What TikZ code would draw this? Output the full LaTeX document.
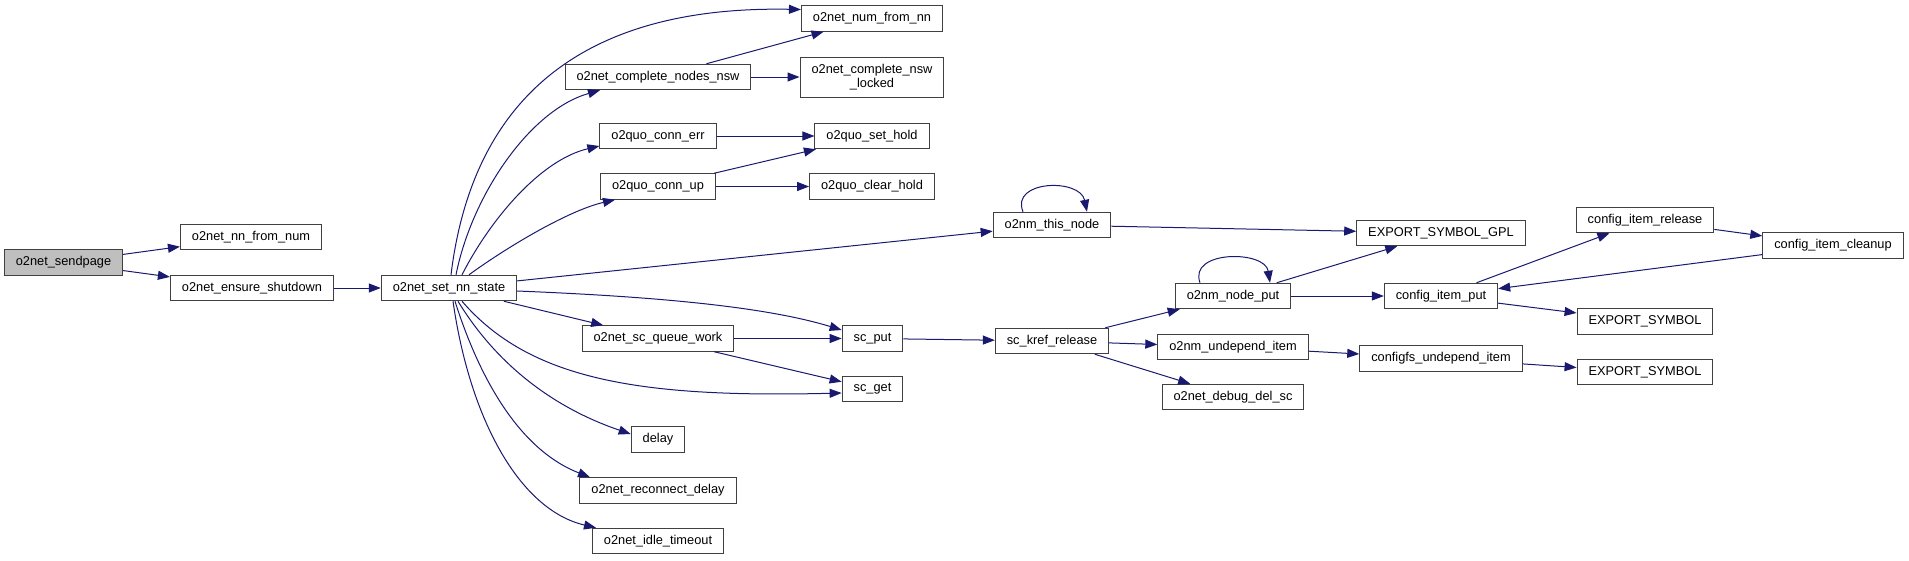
\documentclass[tikz,border=0pt]{standalone}
\usepackage{fontspec}
\setmainfont{Liberation Sans}
\usetikzlibrary{arrows.meta}
\definecolor{edgeblue}{HTML}{191970}
\definecolor{boxline}{HTML}{404040}
\definecolor{rootfill}{HTML}{BFBFBF}

\begin{document}
\begin{tikzpicture}[x=1pt,y=-1pt,>={Triangle[length=12pt,width=9pt]},
 fn/.style={draw=boxline,line width=1pt,fill=white,minimum height=25.5pt,inner xsep=11.5pt,inner ysep=0pt,font=\fontsize{12.8}{14.4}\selectfont},
 root/.style={fn,fill=rootfill},
 call/.style={->,draw=edgeblue,line width=1pt}]
\useasboundingbox (0,0) rectangle (1909,560);
\node[root] (sendpage) at (63.5,262.5) {o2net\_sendpage};
\node[fn] (nnfromnum) at (251,237) {o2net\_nn\_from\_num};
\node[fn] (ensure) at (252,288) {o2net\_ensure\_shutdown};
\node[fn] (setstate) at (449,288) {o2net\_set\_nn\_state};
\node[fn] (completenodes) at (658,77) {o2net\_complete\_nodes\_nsw};
\node[fn] (connerr) at (658,136) {o2quo\_conn\_err};
\node[fn] (connup) at (658,186.5) {o2quo\_conn\_up};
\node[fn] (queuework) at (658,338.5) {o2net\_sc\_queue\_work};
\node[fn] (delay) at (658,439.5) {delay};
\node[fn] (reconnect) at (658,490.5) {o2net\_reconnect\_delay};
\node[fn] (idle) at (658,541) {o2net\_idle\_timeout};
\node[fn] (numfromnn) at (872,18.5) {o2net\_num\_from\_nn};
\node[fn,align=center,minimum height=40pt] (nswlocked) at (872,77) {o2net\_complete\_nsw\\\_locked};
\node[fn] (sethold) at (872,136) {o2quo\_set\_hold};
\node[fn] (clearhold) at (872,186.5) {o2quo\_clear\_hold};
\node[fn] (scput) at (872.5,338.5) {sc\_put};
\node[fn] (scget) at (872.5,389) {sc\_get};
\node[fn] (thisnode) at (1052,225) {o2nm\_this\_node};
\node[fn] (kref) at (1052,341) {sc\_kref\_release};
\node[fn] (nodeput) at (1233,296) {o2nm\_node\_put};
\node[fn] (undepend) at (1233,347) {o2nm\_undepend\_item};
\node[fn] (delsc) at (1233,397) {o2net\_debug\_del\_sc};
\node[fn] (gpl) at (1441,233) {EXPORT\_SYMBOL\_GPL};
\node[fn] (itemput) at (1441,296) {config\_item\_put};
\node[fn] (cfgundepend) at (1441,358.5) {configfs\_undepend\_item};
\node[fn] (itemrelease) at (1645,220) {config\_item\_release};
\node[fn] (export1) at (1645,321.5) {EXPORT\_SYMBOL};
\node[fn] (export2) at (1645,372) {EXPORT\_SYMBOL};
\node[fn] (itemcleanup) at (1833,245.5) {config\_item\_cleanup};
\draw[call] (sendpage)--(nnfromnum);
\draw[call] (sendpage)--(ensure);
\draw[call] (ensure)--(setstate);
\draw[call] ([xshift=2pt]setstate.north) .. controls (470,120) and (560,5) .. ([yshift=9pt]numfromnn.west);
\draw[call] ([xshift=7pt]setstate.north) .. controls (472,195) and (530,110) .. ([xshift=-58pt]completenodes.south);
\draw[call] ([xshift=13pt]setstate.north) .. controls (490,220) and (540,160) .. ([yshift=-10pt]connerr.west);
\draw[call] ([xshift=20pt]setstate.north) .. controls (510,245) and (570,210) .. ([xshift=-43pt]connup.south);
\draw[call] (setstate)--(thisnode);
\draw[call] ([yshift=-3pt]setstate.east) .. controls (640,296) and (760,305) .. ([yshift=8.5pt]scput.west);
\draw[call] (setstate)--(queuework);
\draw[call] ([xshift=13pt]setstate.south) .. controls (530,380) and (640,398) .. ([yshift=-4pt]scget.west);
\draw[call] ([xshift=9pt]setstate.south) .. controls (500,370) and (560,410) .. ([yshift=5.5pt]delay.west);
\draw[call] ([xshift=6pt]setstate.south) .. controls (480,380) and (520,450) .. ([xshift=-68pt]reconnect.north);
\draw[call] ([xshift=4pt]setstate.south) .. controls (470,420) and (520,510) .. ([xshift=-62pt]idle.north);
\draw[call] (completenodes)--(numfromnn);
\draw[call] (completenodes)--(nswlocked);
\draw[call] (connerr)--(sethold);
\draw[call] (connup)--(sethold);
\draw[call] (connup)--(clearhold);
\draw[call] (queuework)--(scput);
\draw[call] (queuework)--(scget);
\draw[call] (scput)--(kref);
\draw[call] ([xshift=-29pt]thisnode.north) .. controls (1010,180) and (1080,178) .. ([xshift=35pt]thisnode.north);
\draw[call] (thisnode)--(gpl);
\draw[call] (kref)--(nodeput);
\draw[call] (kref)--(undepend);
\draw[call] (kref)--(delsc);
\draw[call] ([xshift=-33pt]nodeput.north) .. controls (1188,250) and (1265,250) .. ([xshift=37pt]nodeput.north);
\draw[call] (nodeput)--(gpl);
\draw[call] (nodeput)--(itemput);
\draw[call] (undepend)--(cfgundepend);
\draw[call] (itemput)--(itemrelease);
\draw[call] (itemput)--(export1);
\draw[call] (itemrelease)--(itemcleanup);
\draw[call] (itemcleanup)--(itemput);
\draw[call] (cfgundepend)--(export2);
\end{tikzpicture}
\end{document}
